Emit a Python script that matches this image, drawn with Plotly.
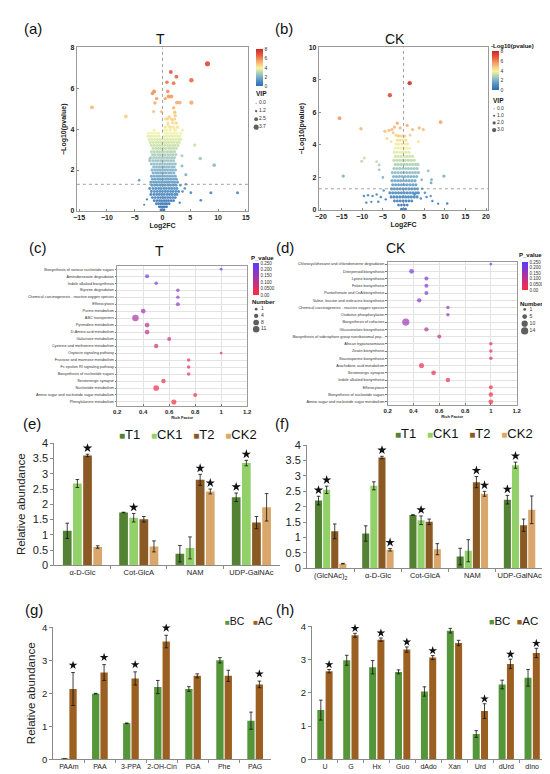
import math
import plotly.graph_objects as go

W, H = 550, 774
FONT = "Liberation Sans, Arial, Helvetica, sans-serif"


def fx(p):
    return p / W


def fy(p):
    return 1 - p / H


# ======================= DATA =======================
# (a) volcano T : outlying points
a_out_x = [-12.7, -6.6, 8.1, 5.2, 5.2, 1.5, 2.5, 0.8, 2.0, -1.5, -1.8, -1.05, -1.35, 0.95, 1.1, 1.6, 0.5, 2.6, 3.1, -1.6,
           -0.2, 2.0, 2.2, 2.3, 0.6, 1.2, 1.8, 2.5, 1.0, 1.5, 2.1, 2.7, 5.8, 6.8, 9.3, 3.5, 3.5, 4.2, -4.2, 8.7,
           13.5, 5.1, 6.9, 3.6, 4.0, 4.2, 3.2, -2.8, -3.3, 3.1, -2.3]
a_out_y = [5.07, 4.62, 7.2, 6.4, 5.3, 6.8, 6.57, 6.3, 6.25, 5.85, 5.75, 5.5, 5.28, 5.85, 5.6, 5.6, 5.5, 5.3, 5.3, 4.86,
           4.86, 5.05, 4.83, 4.66, 4.5, 4.6, 4.45, 4.3, 4.2, 4.1, 4.0, 4.1, 3.22, 2.56, 2.24, 2.7, 2.2, 1.77, 1.5, 0.89,
           0.89, 0.89, 0.52, 0.95, 1.1, 1.3, 1.25, 0.56, 0.3, 0.4, 2.55]
a_out_vip = [2.6, 2.6, 3.7, 3.2, 3.0, 2.6, 2.6, 2.4, 2.5, 2.5, 2.4, 2.2, 2.3, 2.3, 2.5, 2.5, 2.1, 2.4, 2.4, 2.0,
             2.0, 2.3, 2.3, 2.1, 2.0, 2.1, 2.1, 2.0, 2.0, 1.9, 1.9, 1.9, 2.2, 2.3, 2.4, 1.9, 1.8, 1.8, 1.6, 1.9,
             1.9, 1.6, 1.5, 1.5, 1.5, 1.5, 1.4, 1.2, 1.0, 1.2, 1.6]
# (a) dense cloud, one row of Log2FC values per -log10(p) level
a_cloud_y = [0.05, 0.2, 0.35, 0.5, 0.65, 0.8, 0.95, 1.1, 1.25, 1.4, 1.55, 1.7, 1.85, 2.0, 2.15, 2.3, 2.45, 2.6, 2.75,
             2.9, 3.05, 3.2, 3.35, 3.5, 3.65, 3.8, 3.95, 4.1, 4.3, 4.5]
a_cloud_vip = [1.4, 1.5, 1.6, 1.7, 1.7, 1.8, 1.8, 1.8, 1.8, 1.8, 1.8, 1.8, 1.8, 1.8, 1.8, 1.8, 1.8, 1.8, 1.8,
               1.8, 1.8, 1.8, 1.8, 1.8, 1.8, 1.8, 1.8, 1.9, 1.9, 1.9]
a_cloud_x = [
    [-0.3, 0.0, 0.3],
    [-0.6, -0.25, 0.1, 0.4, 0.75],
    [-1.1, -0.7, -0.3, 0.05, 0.45, 0.8, 1.2],
    [-1.5, -1.0, -0.55, -0.15, 0.3, 0.7, 1.1, 1.55, 2.0],
    [-1.8, -1.3, -0.8, -0.35, 0.1, 0.5, 0.95, 1.4, 1.85, 2.3],
    [-2.1, -1.55, -1.05, -0.6, -0.15, 0.3, 0.8, 1.25, 1.7, 2.2, 2.6],
    [-2.0, -1.45, -0.95, -0.45, 0.0, 0.5, 0.95, 1.45, 1.9, 2.4, 2.9],
    [-2.3, -1.7, -1.2, -0.7, -0.25, 0.25, 0.7, 1.2, 1.65, 2.15, 2.6],
    [-1.9, -1.4, -0.9, -0.4, 0.05, 0.5, 1.0, 1.45, 1.95, 2.45],
    [-2.1, -1.6, -1.1, -0.6, -0.15, 0.35, 0.8, 1.25, 1.75, 2.2, 2.7],
    [-1.8, -1.3, -0.8, -0.35, 0.1, 0.6, 1.05, 1.5, 2.0, 2.5],
    [-2.0, -1.5, -1.0, -0.55, -0.1, 0.35, 0.85, 1.3, 1.8, 2.3],
    [-1.7, -1.2, -0.75, -0.3, 0.15, 0.6, 1.1, 1.55, 2.05],
    [-1.9, -1.4, -0.9, -0.45, 0.0, 0.45, 0.9, 1.4, 1.85, 2.35],
    [-1.6, -1.1, -0.65, -0.2, 0.25, 0.7, 1.15, 1.65, 2.1],
    [-2.0, -1.5, -1.0, -0.5, -0.05, 0.4, 0.9, 1.35, 1.8, 2.3],
    [-2.3, -1.75, -1.25, -0.8, -0.3, 0.15, 0.6, 1.05, 1.55, 2.0],
    [-2.1, -1.6, -1.1, -0.6, -0.15, 0.3, 0.8, 1.25, 1.7, 2.15],
    [-1.8, -1.35, -0.85, -0.4, 0.05, 0.5, 1.0, 1.45, 1.9, 2.4],
    [-2.0, -1.5, -1.0, -0.55, -0.1, 0.35, 0.85, 1.3, 1.75, 2.2],
    [-1.7, -1.2, -0.75, -0.3, 0.15, 0.6, 1.1, 1.55, 2.0, 2.5],
    [-2.0, -1.5, -1.0, -0.5, -0.05, 0.4, 0.9, 1.35, 1.85, 2.3, 2.8],
    [-2.2, -1.7, -1.2, -0.75, -0.3, 0.2, 0.65, 1.1, 1.6, 2.05, 2.55, 3.0],
    [-2.4, -1.9, -1.4, -0.9, -0.45, 0.0, 0.5, 0.95, 1.45, 1.9, 2.4, 2.9, 3.3],
    [-2.6, -2.1, -1.6, -1.1, -0.6, 0.3, 0.75, 1.25, 1.75, 2.2, 2.7, 3.1],
    [-2.5, -1.9, -1.3, -0.7, 0.5, 1.0, 1.6, 2.1, 2.6, 3.3],
    [-1.5, 0.2, 0.8, 1.4, 2.3, 3.6],
    [0.5, 1.3, 2.0, 2.7],
    [1.0, 1.8, 2.4],
    [0.9, 1.6, 2.2],
]

# (b) volcano CK : outlying points
b_out_x = [1.5, -3.3, -15.5, 9.0, -10.3, -1.5, -2.2, -2.8, -3.5, -4.5, -2.5, -1.8, -0.8, 0.9, 2.2, 3.8, 4.8, 1.6, -4.0,
           -1.2, -10.1, -9.5, -6.5, -5.9, -5.9, -14.6, 9.8, 6.0, 6.8, 6.7, -9.6, -8.6, -7.5, -6.5, -5.5, -9.0, -6.1,
           -7.8, 2.7, 5.2, 5.6, 4.2, 7.0, 8.4, 10.6, 6.6, 4.5, -4.8, -4.3, -5.0, 4.4, 3.6, -3.0]
b_out_y = [7.8, 7.06, 5.65, 5.4, 5.0, 5.34, 5.1, 4.95, 4.9, 4.85, 4.75, 4.6, 5.05, 5.2, 4.95, 5.05, 4.95, 4.6, 4.4,
           4.55, 3.0, 3.2, 2.97, 2.77, 2.47, 2.08, 2.08, 2.4, 1.86, 1.66, 0.85, 0.9, 0.85, 0.95, 0.8, 0.45, 0.5,
           0.5, 0.95, 1.05, 0.8, 0.7, 0.55, 0.38, 0.4, 0.85, 1.3, 1.2, 0.65, 2.0, 1.85, 4.2, 4.2]
b_out_vip = [3.0, 3.0, 2.5, 2.4, 2.3, 2.0, 2.0, 2.0, 2.0, 2.0, 1.9, 1.9, 1.9, 2.0, 2.0, 2.0, 2.0, 1.8, 1.8,
             1.8, 1.9, 1.9, 1.7, 1.7, 1.6, 2.2, 2.2, 1.7, 1.6, 1.6, 1.4, 1.4, 1.4, 1.4, 1.4, 1.3, 1.3,
             1.2, 1.4, 1.4, 1.4, 1.3, 1.3, 1.2, 1.3, 1.3, 1.4, 1.4, 1.3, 1.5, 1.5, 1.7, 1.7]
b_cloud_y = [0.05, 0.3, 0.55, 0.8, 1.05, 1.3, 1.55, 1.8, 2.05, 2.3, 2.55, 2.8, 3.05, 3.3, 3.55, 3.8, 4.05, 4.3, 4.55]
b_cloud_vip = [1.5, 1.6, 1.7, 1.9, 2.0, 2.0, 2.0, 2.0, 2.0, 2.0, 2.0, 2.0, 2.0, 2.0, 2.0, 2.0, 2.0, 2.0, 2.0]
b_cloud_x = [
    [-0.5, 0.0, 0.5],
    [-1.2, -0.5, 0.2, 0.9],
    [-2.2, -1.5, -0.8, -0.1, 0.6, 1.3, 2.0],
    [-3.0, -2.3, -1.6, -0.9, -0.2, 0.5, 1.2, 1.9, 2.6, 3.3],
    [-3.3, -2.6, -1.9, -1.2, -0.5, 0.2, 0.9, 1.6, 2.3, 3.0, 3.6],
    [-2.9, -2.2, -1.5, -0.8, -0.1, 0.6, 1.3, 2.0, 2.7, 3.4],
    [-2.6, -1.9, -1.2, -0.5, 0.2, 0.9, 1.6, 2.3, 3.0],
    [-2.8, -2.1, -1.4, -0.7, 0.0, 0.7, 1.4, 2.1, 2.8],
    [-2.4, -1.7, -1.0, -0.3, 0.4, 1.1, 1.8, 2.5, 3.2],
    [-2.7, -2.0, -1.3, -0.6, 0.1, 0.8, 1.5, 2.2, 2.9, 3.6],
    [-2.3, -1.6, -0.9, -0.2, 0.5, 1.2, 1.9, 2.6, 3.3],
    [-2.0, -1.3, -0.6, 0.1, 0.8, 1.5, 2.2, 2.9, 3.5],
    [-2.3, -1.6, -0.9, -0.2, 0.5, 1.2, 1.9, 2.6],
    [-2.0, -1.3, -0.6, 0.1, 0.8, 1.5, 2.2],
    [-2.2, -1.5, -0.8, -0.1, 0.6, 1.3],
    [-2.0, -1.3, -0.6, 0.1, 0.8, 1.5],
    [-1.8, -1.1, -0.4, 0.3, 1.0],
    [-1.5, -0.8, -0.1, 0.6],
    [-1.2, -0.5, 0.3],
]

p_cut = 0.05
a_vip_levels = [0.0, 1.2, 2.5, 3.7]
b_vip_levels = [0.0, 1.0, 2.0, 3.0]
volc_ticks = [0, 2, 4, 6, 8]

# (c) KEGG enrichment T
c_paths = ["Biosynthesis of various nucleotide sugars", "Aminobenzoate degradation", "Indole alkaloid biosynthesis",
           "Styrene degradation", "Chemical carcinogenesis - reactive oxygen species", "Efferocytosis",
           "Purine metabolism", "ABC transporters", "Pyrimidine metabolism", "D-Amino acid metabolism",
           "Galactose metabolism", "Cysteine and methionine metabolism", "Oxytocin signaling pathway",
           "Fructose and mannose metabolism", "Fc epsilon RI signaling pathway", "Biosynthesis of nucleotide sugars",
           "Serotonergic synapse", "Nucleotide metabolism", "Amino sugar and nucleotide sugar metabolism",
           "Phenylalanine metabolism"]
c_rich = [1.0, 0.43, 0.5, 0.667, 0.667, 0.667, 0.4, 0.34, 0.43, 0.43, 0.6, 0.5, 1.0, 0.75, 0.75, 0.75, 0.556, 0.5,
          0.8, 0.636]
c_num = [1, 3, 2, 2, 2, 3, 5, 11, 5, 5, 3, 4, 1, 2, 2, 2, 4, 8, 3, 6]
c_p = [0.25, 0.22, 0.2, 0.17, 0.17, 0.16, 0.14, 0.13, 0.11, 0.1, 0.08, 0.07, 0.055, 0.04, 0.04, 0.035, 0.03, 0.02,
       0.01, 0.005]
c_num_levels = [1, 4, 8, 11]

# (d) KEGG enrichment CK
d_paths = ["Chlorocyclohexane and chlorobenzene degradation", "Diterpenoid biosynthesis", "Lysine biosynthesis",
           "Folate biosynthesis", "Pantothenate and CoA biosynthesis", "Valine, leucine and isoleucine biosynthesis",
           "Chemical carcinogenesis - reactive oxygen species", "Oxidative phosphorylation",
           "Biosynthesis of cofactors", "Glucosinolate biosynthesis",
           "Biosynthesis of siderophore group nonribosomal pep...", "African trypanosomiasis", "Zeatin biosynthesis",
           "Staurosporine biosynthesis", "Arachidonic acid metabolism", "Serotonergic synapse",
           "Indole alkaloid biosynthesis", "Efferocytosis", "Biosynthesis of nucleotide sugars",
           "Amino sugar and nucleotide sugar metabolism"]
d_rich = [1.0, 0.385, 0.5, 0.5, 0.5, 0.444, 0.667, 0.667, 0.34, 0.5, 0.6, 1.0, 1.0, 1.0, 0.462, 0.556, 0.667, 1.0,
          1.0, 1.0]
d_num = [1, 5, 3, 3, 3, 4, 2, 2, 14, 4, 3, 2, 2, 2, 6, 5, 4, 3, 4, 5]
d_p = [0.25, 0.21, 0.19, 0.19, 0.19, 0.18, 0.165, 0.165, 0.15, 0.12, 0.1, 0.04, 0.04, 0.04, 0.03, 0.025, 0.02,
       0.015, 0.01, 0.005]
d_num_levels = [1, 5, 10, 14]

p_ticks = [0.0, 0.05, 0.1, 0.15, 0.2, 0.25]
p_ticktext = ["0.00", "0.0500", "0.100", "0.150", "0.200", "0.250"]
rich_ticks = [0.2, 0.4, 0.6, 0.8, 1.0, 1.2]

# (e) sugars, four groups
e_cats = ["α-D-Glc", "Cot-GlcA", "NAM", "UDP-GalNAc"]
e_names = ["T1", "CK1", "T2", "CK2"]
e_vals = [[1.13, 1.73, 0.38, 2.23], [2.68, 1.56, 0.57, 3.35], [3.6, 1.51, 2.8, 1.4], [0.6, 0.62, 2.42, 1.9]]
e_errs = [[0.25, 0.01, 0.27, 0.14], [0.13, 0.14, 0.36, 0.09], [0.04, 0.09, 0.18, 0.2], [0.04, 0.18, 0.08, 0.45]]
e_sig = [[0, 0, 0, 1], [0, 1, 0, 1], [1, 0, 1, 0], [0, 0, 1, 0]]

# (f)
f_cats = ["(GlcNAc)<sub>2</sub>", "α-D-Glc", "Cot-GlcA", "NAM", "UDP-GalNAc"]
f_names = ["T1", "CK1", "T2", "CK2"]
f_vals = [[2.2, 1.13, 1.73, 0.38, 2.23], [2.55, 2.68, 1.56, 0.57, 3.35], [1.2, 3.6, 1.51, 2.8, 1.4],
          [0.15, 0.6, 0.62, 2.42, 1.9]]
f_errs = [[0.14, 0.25, 0.01, 0.27, 0.14], [0.12, 0.13, 0.14, 0.36, 0.1], [0.24, 0.04, 0.09, 0.18, 0.2],
          [0.01, 0.04, 0.18, 0.08, 0.45]]
f_sig = [[1, 0, 0, 0, 1], [1, 0, 1, 0, 1], [0, 1, 0, 1, 0], [0, 1, 0, 1, 0]]

# (g)
g_cats = ["PAAm", "PAA", "3-PPA", "2-OH-Cin", "PGA", "Phe", "PAG"]
g_names = ["BC", "AC"]
g_vals = [[0.01, 1.99, 1.09, 2.19, 2.13, 3.0, 1.17], [2.13, 2.63, 2.45, 3.57, 2.53, 2.53, 2.27]]
g_errs = [[0.0, 0.01, 0.01, 0.2, 0.07, 0.08, 0.26], [0.5, 0.24, 0.2, 0.19, 0.06, 0.17, 0.1]]
g_sig = [[0, 0, 0, 0, 0, 0, 0], [1, 1, 1, 1, 0, 0, 1]]

# (h)
h_cats = ["U", "G", "Hx", "Guo", "dAdo", "Xan", "Urd", "dUrd", "dIno"]
h_names = ["BC", "AC"]
h_vals = [[1.48, 2.98, 2.77, 2.63, 2.04, 3.87, 0.76, 2.25, 2.45], [2.65, 3.73, 3.6, 3.3, 3.06, 3.5, 1.45, 2.87, 3.2]]
h_errs = [[0.3, 0.15, 0.2, 0.06, 0.14, 0.07, 0.1, 0.13, 0.25], [0.05, 0.06, 0.05, 0.08, 0.06, 0.08, 0.22, 0.14, 0.14]]
h_sig = [[0, 0, 0, 0, 0, 0, 0, 0, 0], [1, 1, 1, 1, 1, 0, 1, 1, 1]]

# ======================= STYLE =======================
four_colors = ["#548235", "#92d16a", "#8b5a24", "#d9a66b"]
two_colors = ["#56963a", "#9c5f22"]
volc_scale = [[0.0, "#2f6db2"], [0.14, "#4f8fc2"], [0.28, "#8cb9c9"], [0.4, "#c8e0a6"], [0.48, "#f3f3a6"],
              [0.58, "#f9cd86"], [0.7, "#f49a62"], [0.83, "#e5603f"], [1.0, "#cf2626"]]
p_scale = [[0.0, "#ff2b3d"], [1.0, "#5a3cff"]]

fig = go.Figure()
layout = dict(width=W, height=H, margin=dict(l=0, r=0, t=0, b=0, pad=0), paper_bgcolor="white",
              plot_bgcolor="white", showlegend=False, barmode="overlay",
              font=dict(family=FONT, color="#222222", size=8), annotations=[], shapes=[])


def sfx(n):
    return "" if n == 1 else str(n)


def set_axes(n, xdom, ydom, xa, ya):
    xa = dict(xa, domain=[fx(xdom[0]), fx(xdom[1])], anchor="y" + sfx(n))
    ya = dict(ya, domain=[fy(ydom[1]), fy(ydom[0])], anchor="x" + sfx(n))
    layout["xaxis" + sfx(n)] = xa
    layout["yaxis" + sfx(n)] = ya


def note(x, y, text, size, xanchor="left", bold=False, color="#111111", yanchor="middle"):
    layout["annotations"].append(dict(x=fx(x), y=fy(y), xref="paper", yref="paper", text=text, showarrow=False,
                                      xanchor=xanchor, yanchor=yanchor, borderpad=0,
                                      font=dict(size=size, family=FONT, color=color,
                                                weight="bold" if bold else "normal")))


def vip_size(v):
    return 1.0 + 1.1 * v


def num_size(n):
    return 1.2 + 1.6 * math.sqrt(n)


# ---------------- volcano panels ----------------
def volcano(n, cloud_x, cloud_y, cloud_vip, ox, oy, ovip, xrange, xticks, yrange, yticks, xdom, ydom, cbar):
    cx, cy, cv = [], [], []
    for row, yv, vv in zip(cloud_x, cloud_y, cloud_vip):
        for xv in row:
            cx.append(xv)
            cy.append(yv)
            cv.append(vv)
    xs = cx + ox
    ys = cy + oy
    vs = cv + ovip
    fig.add_trace(go.Scatter(x=xs, y=ys, mode="markers", xaxis="x" + sfx(n), yaxis="y" + sfx(n),
                             marker=dict(size=[vip_size(v) for v in vs], color=ys, colorscale=volc_scale,
                                         cmin=0, cmax=8, opacity=0.9, line=dict(width=0),
                                         showscale=True, colorbar=cbar),
                             hoverinfo="skip"))
    ax = dict(showline=True, linecolor="#9a9a9a", linewidth=1, mirror=True, ticks="inside", ticklen=2,
              tickcolor="#888", showgrid=False, zeroline=False,
              tickfont=dict(size=7, weight="bold", color="#222"))
    set_axes(n, xdom, ydom,
             dict(ax, range=xrange, tickvals=xticks,
                  title=dict(text="Log2FC", font=dict(size=7, weight="bold"), standoff=2)),
             dict(ax, range=yrange, tickvals=yticks,
                  title=dict(text="−Log10(pvalue)", font=dict(size=7, weight="bold"), standoff=3)))
    thr = -math.log10(p_cut)
    layout["shapes"].append(dict(type="line", xref="x" + sfx(n) + " domain", yref="y" + sfx(n),
                                 x0=0, x1=1, y0=thr, y1=thr, line=dict(color="#8a8a8a", width=0.8, dash="dot")))
    layout["shapes"].append(dict(type="line", xref="x" + sfx(n), yref="y" + sfx(n) + " domain",
                                 x0=0, x1=0, y0=0, y1=1, line=dict(color="#8a8a8a", width=0.8, dash="dot")))


def cbar_def(x, ytop, length, thick, tickvals, ticktext=None, fsize=5):
    d = dict(x=fx(x), xanchor="left", y=fy(ytop), yanchor="top", len=length, lenmode="pixels",
             thickness=thick, thicknessmode="pixels", xpad=0, ypad=0, outlinewidth=0,
             tickvals=tickvals, ticks="", tickfont=dict(size=fsize, color="#333"))
    if ticktext is not None:
        d["ticktext"] = ticktext
    return d


volcano(1, a_cloud_x, a_cloud_y, a_cloud_vip, a_out_x, a_out_y, a_out_vip, [-15.4, 15.4],
        [-15, -10, -5, 0, 5, 10, 15], [0, 8], [0, 2, 4, 6, 8], (66, 240), (34, 200),
        cbar_def(248, 36, 37, 7, volc_ticks))
volcano(2, b_cloud_x, b_cloud_y, b_cloud_vip, b_out_x, b_out_y, b_out_vip, [-20.5, 20.5],
        [-20, -15, -10, -5, 0, 5, 10, 15, 20], [0, 10], [0, 2, 4, 6, 8, 10], (312, 484), (34, 199),
        cbar_def(488, 38, 39, 7, volc_ticks))


# ---------------- size legends ----------------
def size_legend(n, xdom, ydom, levels, sizes, labels, mx, tx, fsize):
    k = len(levels)
    set_axes(n, xdom, ydom, dict(range=[0, 1], visible=False, fixedrange=True),
             dict(range=[k - 0.5, -0.5], visible=False, fixedrange=True))
    fig.add_trace(go.Scatter(x=[mx] * k, y=list(range(k)), mode="markers", xaxis="x" + sfx(n),
                             yaxis="y" + sfx(n), marker=dict(size=sizes, color="#1a1a1a", line=dict(width=0)),
                             hoverinfo="skip", cliponaxis=False))
    fig.add_trace(go.Scatter(x=[tx] * k, y=list(range(k)), mode="text", text=labels, textposition="middle right",
                             textfont=dict(size=fsize, color="#333"), xaxis="x" + sfx(n), yaxis="y" + sfx(n),
                             hoverinfo="skip", cliponaxis=False))


size_legend(9, (244, 272), (86.5, 119), a_vip_levels, [vip_size(v) for v in a_vip_levels],
            [f"{v:.1f}" for v in a_vip_levels], 0.15, 0.25, 5)
size_legend(10, (486, 514), (92.5, 121.5), b_vip_levels, [vip_size(v) for v in b_vip_levels],
            [f"{v:.1f}" for v in b_vip_levels], 0.15, 0.25, 5)
size_legend(11, (244, 272), (296.5, 323.5), c_num_levels, [num_size(v) for v in c_num_levels],
            [str(v) for v in c_num_levels], 0.15, 0.33, 5)
size_legend(12, (517, 545), (296.5, 325.5), d_num_levels, [num_size(v) for v in d_num_levels],
            [str(v) for v in d_num_levels], 0.15, 0.33, 5)


# ---------------- enrichment dot plots ----------------
def dotplot(n, paths, rich, num, pv, xdom, ydom, yrange, cbar):
    fig.add_trace(go.Scatter(x=rich, y=paths, mode="markers", xaxis="x" + sfx(n), yaxis="y" + sfx(n),
                             marker=dict(size=[num_size(v) for v in num], color=pv, colorscale=p_scale,
                                         cmin=0, cmax=0.25, line=dict(width=0), showscale=True, colorbar=cbar),
                             hoverinfo="skip"))
    ax = dict(showline=True, linecolor="#9a9a9a", linewidth=1, mirror=True, ticklen=1.5,
              tickcolor="#777", showgrid=True, gridcolor="#e3e3e3", gridwidth=0.6, zeroline=False)
    set_axes(n, xdom, ydom,
             dict(ax, ticks="inside", range=[0.2, 1.2], tickvals=rich_ticks,
                  tickfont=dict(size=6, weight="bold", color="#222"),
                  title=dict(text="Rich Factor", font=dict(size=4, weight="bold"), standoff=2)),
             dict(ax, ticks="outside", type="category", categoryorder="array", categoryarray=paths,
                  range=yrange, tickfont=dict(size=3.8, color="#333")))


dotplot(3, c_paths, c_rich, c_num, c_p, (107, 239), (256, 398), [19.55, -0.45],
        cbar_def(245, 253, 32, 6, p_ticks, p_ticktext, 4.5))
dotplot(4, d_paths, d_rich, d_num, d_p, (382, 513), (252, 397), [19.42, -0.28],
        cbar_def(518, 252, 28, 6, p_ticks, p_ticktext, 4.5))


# ---------------- bar panels ----------------
def bar_panel(n, cats, names, colors, vals, errs, sigs, xdom, ydom, step, width, pad, star, ymax, dtick,
              ytfont, xtfont, ytitle):
    k = len(names)
    m = len(cats)
    for j in range(k):
        off = (j - (k - 1) / 2) * step
        xs = [i + off for i in range(m)]
        fig.add_trace(go.Bar(x=xs, y=vals[j], width=width, name=names[j], xaxis="x" + sfx(n),
                             yaxis="y" + sfx(n), marker=dict(color=colors[j], line=dict(width=0)),
                             error_y=dict(type="data", array=errs[j], color="#111", thickness=0.8, width=1.8),
                             hoverinfo="skip"))
        sx = [xs[i] for i in range(m) if sigs[j][i]]
        sy = [vals[j][i] + errs[j][i] + pad for i in range(m) if sigs[j][i]]
        fig.add_trace(go.Scatter(x=sx, y=sy, mode="markers", xaxis="x" + sfx(n), yaxis="y" + sfx(n),
                                 marker=dict(symbol="star", size=star, color="#111", line=dict(width=0)),
                                 cliponaxis=False, hoverinfo="skip"))
    xa = dict(range=[-0.5, m - 0.5], tickvals=list(range(m)), ticktext=cats, ticks="", showline=True,
              linecolor="#8a8a8a", linewidth=1, showgrid=False, zeroline=False,
              tickfont=dict(size=xtfont, color="#222"),
              minor=dict(tickvals=[i + 0.5 for i in range(m - 1)], ticks="outside", ticklen=3,
                         tickcolor="#8a8a8a", showgrid=False))
    ya = dict(range=[0, ymax], dtick=dtick, ticks="outside", ticklen=3, tickcolor="#8a8a8a", showline=True,
              linecolor="#8a8a8a", linewidth=1, showgrid=False, zeroline=False,
              tickfont=dict(size=ytfont, color="#222"))
    if ytitle:
        ya["title"] = dict(text=ytitle, font=dict(size=11.5, color="#222"), standoff=4)
    set_axes(n, xdom, ydom, xa, ya)


bar_panel(5, e_cats, e_names, four_colors, e_vals, e_errs, e_sig, (43, 272), (436, 560), 0.18, 0.155, 0.2, 7,
          4, 0.5, 11, 7.5, "Relative abundance")
bar_panel(6, f_cats, f_names, four_colors, f_vals, f_errs, f_sig, (300, 540), (438, 563), 0.172, 0.15, 0.2, 7,
          4, 0.5, 11, 7.5, None)
bar_panel(7, g_cats, g_names, two_colors, g_vals, g_errs, g_sig, (42, 263), (623, 757), 0.27, 0.235, 0.22, 6.5,
          4, 1, 9.5, 7, "Relative abundance")
bar_panel(8, h_cats, h_names, two_colors, h_vals, h_errs, h_sig, (305, 542), (622, 757), 0.32, 0.27, 0.15, 6.5,
          4, 1, 9.5, 7, None)


def legend_text(names, colors, sq, gap):
    parts = [f"<span style='color:{c};font-size:{sq}px'>■</span>{nm}" for nm, c in zip(names, colors)]
    return gap.join(parts)


note(108, 427, legend_text(e_names, four_colors, 10, "\u00a0\u00a0\u00a0"), 13)
note(388, 426, legend_text(f_names, four_colors, 10, "\u00a0\u00a0\u00a0"), 13)
note(216, 617, legend_text(g_names, two_colors, 8, "\u00a0\u00a0\u00a0"), 10.5)
note(484, 617, legend_text(h_names, two_colors, 9, "\u00a0\u00a0"), 11.5)

# ---------------- titles, headers, panel letters ----------------
note(151, 25, "T", 14, "center")
note(389, 25, "CK", 14, "center")
note(150, 241, "T", 14, "center")
note(390, 238, "CK", 14, "center")
note(247, 81, "VIP", 6.5, bold=True)
note(488, 88, "VIP", 6.5, bold=True)
note(486, 32, "-Log10(pvalue)", 6, bold=True)
note(242, 248, "P_value", 6, bold=True)
note(514, 245, "P_value", 6, bold=True)
note(243, 293, "Number", 6, bold=True)
note(515, 295, "Number", 6, bold=True)
for lab, x, y in [("(a)", 11, 15), ("(b)", 266, 15), ("(c)", 16, 237), ("(d)", 267, 237),
                  ("(e)", 10, 416), ("(f)", 266, 416), ("(g)", 12, 605), ("(h)", 267, 605)]:
    note(x, y, lab, 15)

fig.update_layout(layout)
fig.write_html("out.html")
